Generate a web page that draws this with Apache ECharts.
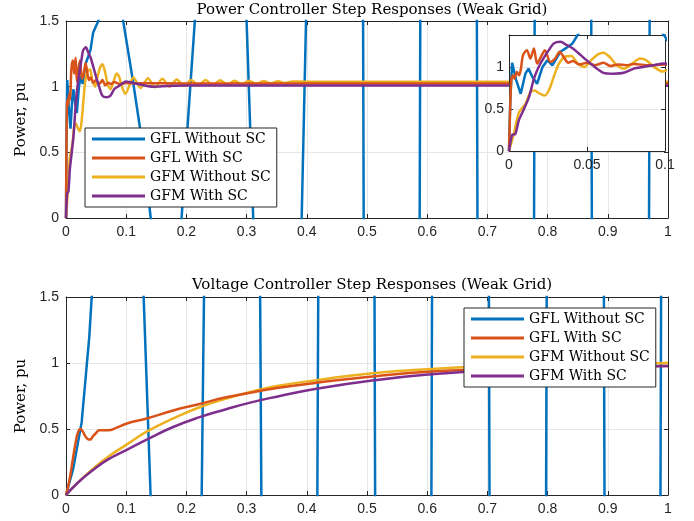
<!DOCTYPE html>
<html>
<head>
<meta charset="utf-8">
<title>Step Responses (Weak Grid)</title>
<script src="https://cdn.jsdelivr.net/npm/echarts@6.0.0/dist/echarts.min.js"></script>
<style>
  html, body { margin: 0; padding: 0; background: #fff; }
  #main { width: 694px; height: 521px; }
</style>
</head>
<body>
<div id="main"></div>
<script>
var names = ['GFL Without SC', 'GFL With SC', 'GFM Without SC', 'GFM With SC'];
var colors = ['#0072BD', '#D95319', '#EDB120', '#7E2F8E'];
var titles = ['Power Controller Step Responses (Weak Grid)', 'Voltage Controller Step Responses (Weak Grid)'];
var yName = 'Power, pu';

// power controller step, [time s, power pu]
var pGflNoSc = [[0, 0], [0.0008, 0.6], [0.002, 1.05], [0.0045, 0.85], [0.0075, 0.68], [0.0105, 0.92], [0.0125, 0.98],
    [0.015, 0.88], [0.018, 0.8], [0.0215, 1.0], [0.0246, 1.08], [0.0278, 1.02], [0.031, 1.12], [0.033, 1.18],
    [0.037, 1.23], [0.0407, 1.28], [0.045, 1.41], [0.0537, 1.5], [0.074, 2.2], [0.0952, 1.495], [0.1118, 1.026],
    [0.1284, 0.518], [0.1407, 0], [0.166, -1.3], [0.192, 0], [0.203, 0.77], [0.214, 1.5], [0.257, 5], [0.300, 1.5],
    [0.311, 0], [0.351, -6], [0.3915, 0], [0.3987, 1.5], [0.446, 20], [0.4935, 1.5], [0.4945, 0], [0.541, -30],
    [0.5875, 0], [0.5885, 1.5], [0.6355, 40], [0.6825, 1.5], [0.6835, 0], [0.73, -50], [0.7775, 0], [0.7785, 1.5],
    [0.826, 60], [0.8725, 1.5], [0.8735, 0], [0.92, -70], [0.9685, 0], [0.9695, 1.5], [1.0, 30]];
var pGflSc = [[0, 0], [0.0008, 0.55], [0.0015, 0.85], [0.0025, 0.9], [0.0035, 0.86], [0.005, 0.94], [0.0065, 0.9],
    [0.0075, 0.96], [0.009, 1.14], [0.0115, 1.2], [0.0137, 1.1], [0.016, 1.22], [0.018, 1.04], [0.0205, 1.12],
    [0.023, 1.2], [0.0265, 1.06], [0.0295, 1.1], [0.0325, 1.18], [0.035, 1.12], [0.038, 1.05], [0.041, 1.07],
    [0.045, 1.03], [0.05, 1.05], [0.055, 1.02], [0.0606, 1.05], [0.065, 1.01], [0.07, 1.03], [0.075, 1.02],
    [0.08, 1.035], [0.09, 1.02], [0.1, 1.028], [0.12, 1.026], [0.2, 1.025], [1, 1.025]];
var pGfmNoSc = [[0, 0], [0.003, 0.2], [0.0064, 0.46], [0.0106, 0.56], [0.0137, 0.7], [0.0165, 0.72], [0.019, 0.69],
    [0.023, 0.66], [0.026, 0.74], [0.029, 0.9], [0.032, 1.04], [0.0355, 1.12], [0.04, 1.13], [0.044, 1.04],
    [0.0485, 1.0], [0.052, 1.07], [0.057, 1.15], [0.0606, 1.17], [0.065, 1.11], [0.069, 1.02], [0.074, 0.98],
    [0.079, 1.04], [0.084, 1.1], [0.088, 1.08], [0.093, 1.0], [0.0985, 0.945], [0.112, 1.07], [0.124, 0.99],
    [0.136, 1.065], [0.148, 0.995], [0.16, 1.06], [0.172, 1.0], [0.184, 1.055], [0.196, 1.005], [0.208, 1.05],
    [0.22, 1.01], [0.232, 1.05], [0.244, 1.012], [0.256, 1.048], [0.268, 1.015], [0.28, 1.046], [0.292, 1.018],
    [0.304, 1.045], [0.316, 1.02], [0.328, 1.044], [0.34, 1.024], [0.352, 1.042], [0.364, 1.028], [0.376, 1.04],
    [0.4, 1.038], [1, 1.038]];
var pGfmSc = [[0, 0], [0.002, 0.19], [0.004, 0.2], [0.0064, 0.37], [0.0096, 0.5], [0.0128, 0.64], [0.016, 0.86],
    [0.019, 1.0], [0.022, 1.1], [0.0255, 1.2], [0.0287, 1.28], [0.033, 1.3], [0.037, 1.26], [0.041, 1.22],
    [0.046, 1.14], [0.051, 1.06], [0.055, 1.0], [0.0606, 0.93], [0.067, 0.92], [0.0735, 0.93], [0.08, 0.98],
    [0.086, 1.0], [0.0925, 1.02], [0.099, 1.04], [0.11, 1.03], [0.125, 1.015], [0.145, 1.0], [0.17, 1.005],
    [0.2, 1.008], [1, 1.008]];

// voltage controller step
var vGflNoSc = [[0, 0], [0.012, 0.2], [0.026, 0.55], [0.0387, 1.2], [0.0427, 1.5], [0.086, 4], [0.129, 1.5],
    [0.1405, 0], [0.183, -5], [0.2254, 0], [0.2292, 1.5], [0.2765, 10], [0.3225, 1.5], [0.3245, 0], [0.371, -15],
    [0.4175, 0], [0.419, 1.5], [0.466, 20], [0.5125, 1.5], [0.5135, 0], [0.56, -25], [0.607, 0], [0.608, 1.5],
    [0.655, 30], [0.7025, 1.5], [0.7035, 0], [0.75, -35], [0.7975, 0], [0.7985, 1.5], [0.846, 40], [0.8935, 1.5],
    [0.8945, 0], [0.941, -45], [0.9875, 0], [0.9885, 1.5], [1.0, 10]];
var vGflSc = [[0, 0], [0.006, 0.12], [0.012, 0.29], [0.0165, 0.41], [0.0204, 0.48], [0.024, 0.5], [0.028, 0.48],
    [0.0315, 0.45], [0.036, 0.425], [0.04, 0.42], [0.044, 0.44], [0.048, 0.46], [0.056, 0.49], [0.063, 0.49],
    [0.07, 0.49], [0.084, 0.51], [0.1, 0.54], [0.134, 0.58], [0.178, 0.64], [0.222, 0.69], [0.266, 0.74],
    [0.306, 0.775], [0.35, 0.81], [0.416, 0.85], [0.513, 0.9], [0.607, 0.935], [0.7, 0.953], [0.8, 0.965],
    [0.9, 0.973], [1, 0.978]];
var vGfmNoSc = [[0, 0], [0.02, 0.095], [0.045, 0.2], [0.07, 0.29], [0.1, 0.38], [0.134, 0.48], [0.178, 0.58],
    [0.222, 0.665], [0.266, 0.73], [0.306, 0.78], [0.35, 0.825], [0.416, 0.87], [0.513, 0.925], [0.607, 0.955],
    [0.7, 0.975], [0.8, 0.988], [0.9, 0.995], [1, 1.0]];
var vGfmSc = [[0, 0], [0.02, 0.095], [0.045, 0.19], [0.07, 0.27], [0.1, 0.34], [0.134, 0.42], [0.178, 0.515],
    [0.222, 0.59], [0.266, 0.65], [0.306, 0.7], [0.35, 0.745], [0.416, 0.805], [0.513, 0.87], [0.607, 0.915],
    [0.7, 0.943], [0.8, 0.96], [0.9, 0.97], [1, 0.977]];

var axisColor = '#262626';
var gridColor = '#e6e6e6';
var tickFont = '"Liberation Sans", Arial, sans-serif';
var texFont = '"DejaVu Serif", serif';

function makeAxis(gridIndex, pos, min, max, step, primary, z) {
    return {
        type: 'value',
        gridIndex: gridIndex,
        position: pos,
        min: min,
        max: max,
        interval: step,
        z: z,
        axisLine: {show: true, onZero: false, lineStyle: {color: axisColor, width: 1}},
        axisTick: {show: true, inside: true, length: 4, lineStyle: {color: axisColor}},
        axisLabel: {
            show: primary,
            color: axisColor,
            fontFamily: tickFont,
            fontSize: 14,
            margin: 7,
            formatter: function (v) { return String(+v.toFixed(2)); }
        },
        splitLine: {show: primary, lineStyle: {color: gridColor, width: 1}}
    };
}

function yMain(gridIndex, pos, primary) {
    var ax = makeAxis(gridIndex, pos, 0, 1.5, 0.5, primary, 0);
    if (primary) {
        ax.name = yName;
        ax.nameLocation = 'middle';
        ax.nameGap = 35;
        ax.nameTextStyle = {fontFamily: texFont, fontSize: 15, color: '#000'};
    }
    return ax;
}

var insetY = makeAxis(1, 'left', 0, 1.38, 0.5, true, 8);
insetY.axisLabel.showMaxLabel = false;
insetY.axisLabel.margin = 5;
var insetYR = makeAxis(1, 'right', 0, 1.38, 0.5, false, 8);

var xAxes = [
    makeAxis(0, 'bottom', 0, 1, 0.1, true, 0),
    makeAxis(0, 'top', 0, 1, 0.1, false, 0),
    makeAxis(1, 'bottom', 0, 0.1, 0.05, true, 8),
    makeAxis(1, 'top', 0, 0.1, 0.05, false, 8),
    makeAxis(2, 'bottom', 0, 1, 0.1, true, 0),
    makeAxis(2, 'top', 0, 1, 0.1, false, 0)
];
var yAxes = [
    yMain(0, 'left', true),
    yMain(0, 'right', false),
    insetY,
    insetYR,
    yMain(2, 'left', true),
    yMain(2, 'right', false)
];

function line(i, data, axisIdx, z, smooth) {
    return {
        name: names[i],
        type: 'line',
        data: data,
        xAxisIndex: axisIdx,
        yAxisIndex: axisIdx,
        showSymbol: false,
        symbol: 'none',
        clip: true,
        smooth: i > 0 ? smooth : false,
        z: z,
        lineStyle: {color: colors[i], width: 2.5},
        itemStyle: {color: colors[i]}
    };
}

var power = [pGflNoSc, pGflSc, pGfmNoSc, pGfmSc];
var voltage = [vGflNoSc, vGflSc, vGfmNoSc, vGfmSc];
var order = [1, 3, 2, 4];   // blue lowest, red above yellow
var series = [];
for (var i = 0; i < 4; i++) {
    series.push(line(i, power[i], 0, order[i], 0.25));
    series.push(line(i, power[i], 2, 10 + order[i], 0.25));
    series.push(line(i, voltage[i], 4, order[i], 0.5));
}

function legend(left, top) {
    return {
        data: names,
        orient: 'vertical',
        left: left,
        top: top,
        padding: [4, 6, 4, 7],
        icon: 'rect',
        itemWidth: 53,
        itemHeight: 3,
        itemGap: 5,
        selectedMode: false,
        backgroundColor: '#fff',
        borderColor: axisColor,
        borderWidth: 1,
        borderRadius: 0,
        z: 20,
        textStyle: {fontFamily: texFont, fontSize: 14, color: '#000', lineHeight: 14}
    };
}

var option = {
    animation: false,
    backgroundColor: '#fff',
    title: [
        {text: titles[0], left: 367, top: -2, textAlign: 'center',
            textStyle: {fontFamily: texFont, fontSize: 15, fontWeight: 'normal', color: '#000'}},
        {text: titles[1], left: 367, top: 273, textAlign: 'center',
            textStyle: {fontFamily: texFont, fontSize: 15, fontWeight: 'normal', color: '#000'}}
    ],
    grid: [
        {left: 66, top: 21, width: 602, height: 197},
        {left: 509, top: 35, width: 156, height: 116, show: true, backgroundColor: '#fff', borderWidth: 0, z: 7},
        {left: 66, top: 297, width: 602, height: 198}
    ],
    legend: [legend(85, 128), legend(464, 308)],
    xAxis: xAxes,
    yAxis: yAxes,
    series: series
};

var chart = echarts.init(document.getElementById('main'));
chart.setOption(option);
</script>
</body>
</html>
